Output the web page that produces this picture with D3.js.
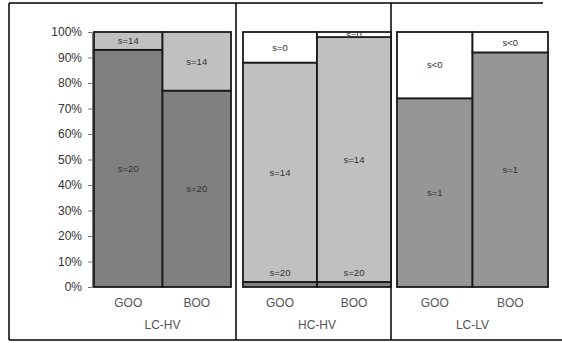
<!DOCTYPE html>
<html>
<head>
<meta charset="utf-8">
<script src="https://cdn.jsdelivr.net/npm/d3@7"></script>
<style>
  body { margin: 0; background: #fff; }
  svg { display: block; font-family: "Liberation Sans", Arial, sans-serif; }
</style>
</head>
<body>
<div id="chart"></div>
<script>
const panels = ["LC-HV", "HC-HV", "LC-LV"];
const categories = ["GOO", "BOO"];
const yTicks = [0, 0.1, 0.2, 0.3, 0.4, 0.5, 0.6, 0.7, 0.8, 0.9, 1];

// segments from bottom to top, values in % for GOO, BOO
const lchvSeries = [
  { label: "s=20", values: [93, 77], color: "#808080" },
  { label: "s=14", values: [7, 23], color: "#c0c0c0" }
];
const hchvSeries = [
  { label: "s=20", values: [2, 2], color: "#808080" },
  { label: "s=14", values: [86, 96], color: "#c0c0c0" },
  { label: "s=0", values: [12, 2], color: "#ffffff" }
];
const lclvSeries = [
  { label: "s=1", values: [74, 92], color: "#969696" },
  { label: "s<0", values: [26, 8], color: "#ffffff" }
];
const panelSeries = [lchvSeries, hchvSeries, lclvSeries];

const W = 562, H = 343;
const svg = d3.select("#chart").append("svg").attr("width", W).attr("height", H);

const y = d3.scaleLinear().domain([0, 1]).range([287, 32]);

// frame
const frameLeft = 9, frameTop = 3, frameBottom = 340;
const dividers = [236, 391];
svg.append("line").attr("x1", frameLeft).attr("x2", 543).attr("y1", frameTop).attr("y2", frameTop)
  .attr("stroke", "#000").attr("stroke-width", 1.5);
svg.append("line").attr("x1", frameLeft).attr("x2", W).attr("y1", frameBottom).attr("y2", frameBottom)
  .attr("stroke", "#000").attr("stroke-width", 1.5);
svg.append("line").attr("x1", frameLeft).attr("x2", frameLeft).attr("y1", frameTop).attr("y2", frameBottom)
  .attr("stroke", "#000").attr("stroke-width", 1.5);
dividers.forEach(d => {
  svg.append("line").attr("x1", d).attr("x2", d).attr("y1", frameTop).attr("y2", frameBottom)
    .attr("stroke", "#000").attr("stroke-width", 1.5);
});

// y axis (first panel only)
const yAxis = svg.append("g")
  .attr("transform", "translate(92,0)")
  .call(d3.axisLeft(y).tickValues(yTicks).tickFormat(d3.format(".0%")).tickSize(4).tickPadding(6));
yAxis.select(".domain").attr("stroke", "#777");
yAxis.selectAll(".tick line").attr("stroke", "#777");
yAxis.selectAll("text").attr("fill", "#333").attr("font-size", "12px");

const panelRanges = [[94, 231], [243, 391], [397, 548]];

panels.forEach((name, pi) => {
  const x = d3.scaleBand().domain(categories).range(panelRanges[pi]).padding(0);
  const g = svg.append("g");
  const labels = svg.append("g");
  const series = panelSeries[pi];

  categories.forEach((cat, ci) => {
    let acc = 0;
    series.forEach((s, si) => {
      const v = s.values[ci] / 100;
      const y0 = y(acc), y1 = y(acc + v);
      g.append("rect")
        .attr("x", x(cat))
        .attr("y", y1)
        .attr("width", x.bandwidth())
        .attr("height", y0 - y1)
        .attr("fill", s.color)
        .attr("stroke", "#1a1a1a")
        .attr("stroke-width", 1.8);
      // very thin bottom segments get their label just above
      const ly = (si === 0 && (y0 - y1) < 12) ? y1 - 9 : (y0 + y1) / 2;
      labels.append("text")
        .attr("x", x(cat) + x.bandwidth() / 2)
        .attr("y", ly)
        .attr("dy", "0.35em")
        .attr("text-anchor", "middle")
        .attr("font-size", "9.5px")
        .attr("fill", "#333")
        .text(s.label);
      acc += v;
    });

    labels.append("text")
      .attr("x", x(cat) + x.bandwidth() / 2)
      .attr("y", 303)
      .attr("dy", "0.35em")
      .attr("text-anchor", "middle")
      .attr("font-size", "12px")
      .attr("fill", "#555")
      .text(cat);
  });

  labels.append("text")
    .attr("x", (panelRanges[pi][0] + panelRanges[pi][1]) / 2)
    .attr("y", 325)
    .attr("dy", "0.35em")
    .attr("text-anchor", "middle")
    .attr("font-size", "12px")
    .attr("fill", "#555")
    .text(name);
});
</script>
</body>
</html>
